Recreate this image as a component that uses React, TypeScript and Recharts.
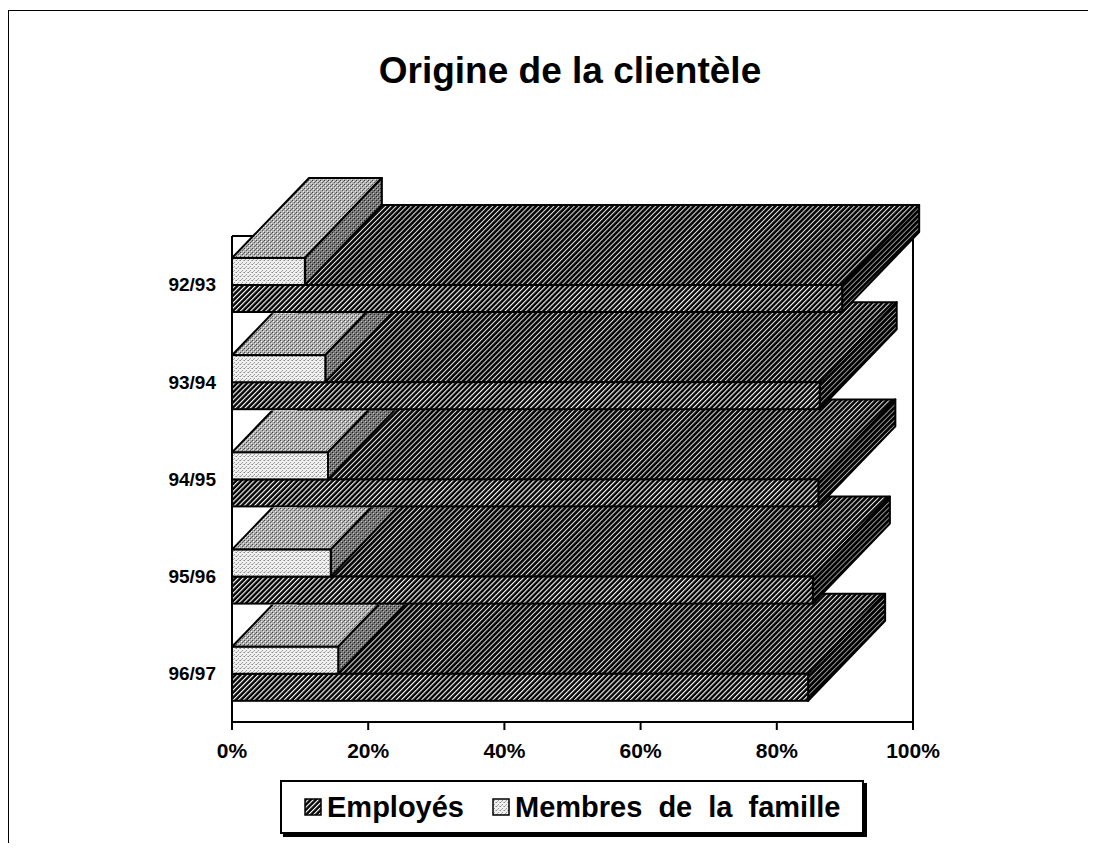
import React from 'react';
import { BarChart, Bar, XAxis, YAxis, CartesianGrid, Legend } from 'recharts';

// Categories listed bottom-to-top (axis is reversed so 92/93 sits on top and is painted last)
const categories = ['96/97', '95/96', '94/95', '93/94', '92/93'];
const employes = [84.6, 85.3, 86.1, 86.3, 89.6];
const membres = [15.6, 14.5, 14.1, 13.7, 10.7];
const xTicks = [0, 20, 40, 60, 80, 100];
const SERIES_EMP = 'Employés';
const SERIES_MEM = 'Membres de la famille';
const TITLE = 'Origine de la clientèle';

const data = categories.map((c, i) => ({ cat: c, emp: employes[i], mem: membres[i] }));

const FONT = '"Liberation Sans", Arial, Helvetica, sans-serif';
const DX = 77;
const DY = 80;
const VISIBLE_DY = 42;

const fills: Record<string, { front: string; top: string; side: string }> = {
  emp: { front: 'url(#empFront)', top: 'url(#empTop)', side: 'url(#empSide)' },
  mem: { front: 'url(#memFront)', top: 'url(#memTop)', side: 'url(#memSide)' },
};

function Box3D(props: any) {
  const { x, y, width, height, index, kind } = props;
  if (x == null || y == null || !width) return null;
  const full = kind === 'emp' || index === categories.length - 1;
  const f = fills[kind];
  const dx = DX;
  const dy = DY;
  const topPts = `${x},${y} ${x + dx},${y - dy} ${x + width + dx},${y - dy} ${x + width},${y}`;
  const sidePts = `${x + width},${y} ${x + width + dx},${y - dy} ${x + width + dx},${y + height - dy} ${x + width},${y + height}`;
  const clipId = `clip-${kind}-${index}`;
  return (
    <g>
      {!full && (
        <defs>
          <clipPath id={clipId}>
            <rect x={x - 10} y={y - VISIBLE_DY} width={width + dx + 20} height={height + VISIBLE_DY + 10} />
          </clipPath>
        </defs>
      )}
      <g clipPath={full ? undefined : `url(#${clipId})`}>
        <polygon points={topPts} fill={f.top} stroke="#000" strokeWidth={2} strokeLinejoin="round" />
        <polygon points={sidePts} fill={f.side} stroke="#000" strokeWidth={2} strokeLinejoin="round" />
      </g>
      <rect x={x} y={y} width={width} height={height} fill={f.front} stroke="#000" strokeWidth={2} />
    </g>
  );
}

function Patterns() {
  return (
    <svg width={0} height={0} style={{ position: 'absolute' }}>
      <defs>
        <pattern id="empFront" width={3.6} height={3.6} patternUnits="userSpaceOnUse" patternTransform="rotate(45)">
          <rect width={3.6} height={3.6} fill="#000" />
          <rect x={0} width={1.15} height={3.6} fill="#fff" />
        </pattern>
        <pattern id="empTop" width={3.6} height={3.6} patternUnits="userSpaceOnUse" patternTransform="rotate(45)">
          <rect width={3.6} height={3.6} fill="#050505" />
          <rect x={0} width={1.0} height={3.6} fill="#e4e4e4" />
        </pattern>
        <pattern id="empSide" width={3.6} height={3.6} patternUnits="userSpaceOnUse" patternTransform="rotate(45)">
          <rect width={3.6} height={3.6} fill="#000" />
          <rect x={0} width={0.85} height={3.6} fill="#aaa" />
        </pattern>
        <pattern id="memFront" width={4} height={4} patternUnits="userSpaceOnUse">
          <rect width={4} height={4} fill="#f0f0f0" />
          <rect x={0} y={0} width={1} height={1} fill="#888" />
          <rect x={2} y={2} width={1} height={1} fill="#999" />
          <rect x={3} y={0} width={1} height={1} fill="#bbb" />
          <rect x={1} y={3} width={1} height={1} fill="#aaa" />
        </pattern>
        <pattern id="memTop" width={4} height={4} patternUnits="userSpaceOnUse">
          <rect width={4} height={4} fill="#b0b0b0" />
          <rect x={0} y={0} width={1} height={1} fill="#444" />
          <rect x={2} y={2} width={1} height={1} fill="#555" />
          <rect x={1} y={1} width={1} height={1} fill="#f4f4f4" />
          <rect x={3} y={3} width={1} height={1} fill="#e8e8e8" />
          <rect x={3} y={1} width={1} height={1} fill="#777" />
        </pattern>
        <pattern id="memSide" width={4} height={4} patternUnits="userSpaceOnUse">
          <rect width={4} height={4} fill="#767676" />
          <rect x={0} y={0} width={1} height={1} fill="#222" />
          <rect x={2} y={2} width={1} height={1} fill="#1a1a1a" />
          <rect x={1} y={1} width={1} height={1} fill="#c8c8c8" />
          <rect x={3} y={3} width={1} height={1} fill="#aaa" />
        </pattern>
      </defs>
    </svg>
  );
}

function LegendContent(props: any) {
  const payload = props.payload || [];
  return (
    <div
      style={{
        boxSizing: 'border-box',
        width: 584,
        height: 54,
        border: '2px solid #000',
        boxShadow: '3px 3px 0 #000',
        background: '#fff',
        display: 'flex',
        alignItems: 'center',
        paddingLeft: 22,
        fontFamily: FONT,
        fontWeight: 'bold',
        fontSize: 29,
        color: '#000',
        whiteSpace: 'nowrap',
      }}
    >
      {payload.map((p: any, i: number) => {
        const kind = p.dataKey as string;
        return (
          <span key={kind} style={{ display: 'flex', alignItems: 'center', marginRight: i === 0 ? 28 : 0 }}>
            <svg width={18} height={18} style={{ marginRight: 5 }}>
              <rect x={1} y={1} width={16} height={16} fill={fills[kind].front} stroke="#000" strokeWidth={1.5} />
            </svg>
            <span style={{ wordSpacing: kind === 'mem' ? 8 : 0 }}>{p.value}</span>
          </span>
        );
      })}
    </div>
  );
}

export default function App() {
  return (
    <div style={{ position: 'relative', width: 1080, height: 835, background: '#fff' }}>
      <Patterns />
      <div
        style={{
          position: 'absolute',
          left: 0,
          top: 2,
          width: 1085,
          height: 838,
          boxSizing: 'border-box',
          border: '1.5px solid #000',
          pointerEvents: 'none',
        }}
      />
      <div
        style={{
          position: 'absolute',
          left: 62,
          width: 1000,
          top: 44,
          textAlign: 'center',
          fontFamily: FONT,
          fontWeight: 'bold',
          fontSize: 37,
          lineHeight: '37px',
          color: '#000',
        }}
      >
        {TITLE}
      </div>
      <BarChart
        width={1080}
        height={835}
        data={data}
        layout="vertical"
        margin={{ top: 228, right: 175, bottom: 61, left: 124 }}
        barGap={-54}
        barSize={27}
      >
        <CartesianGrid
          stroke="#000"
          strokeWidth={2}
          horizontalCoordinatesGenerator={(p: any) => [p.offset.top]}
          verticalCoordinatesGenerator={(p: any) => [p.offset.left, p.offset.left + p.offset.width]}
        />
        <XAxis
          type="number"
          domain={[0, 100]}
          ticks={xTicks}
          interval={0}
          tickFormatter={(v: number) => `${v}%`}
          height={60}
          tickSize={8}
          tickMargin={13}
          axisLine={{ stroke: '#000', strokeWidth: 2 }}
          tickLine={{ stroke: '#000', strokeWidth: 2 }}
          tick={{ fill: '#000', fontSize: 21, fontWeight: 'bold', fontFamily: FONT }}
        />
        <YAxis
          type="category"
          dataKey="cat"
          reversed
          width={100}
          axisLine={false}
          tickLine={false}
          tickSize={0}
          tickMargin={16}
          interval={0}
          tick={{ fill: '#000', fontSize: 19, fontWeight: 'bold', fontFamily: FONT }}
        />
        <Legend
          layout="horizontal"
          verticalAlign="middle"
          align="center"
          content={<LegendContent />}
          wrapperStyle={{ position: 'absolute', left: 272, top: 772, width: 590, height: 60 }}
        />
        <Bar dataKey="emp" name={SERIES_EMP} isAnimationActive={false} shape={(p: any) => <Box3D {...p} kind="emp" />} />
        <Bar dataKey="mem" name={SERIES_MEM} isAnimationActive={false} shape={(p: any) => <Box3D {...p} kind="mem" />} />
      </BarChart>
    </div>
  );
}
